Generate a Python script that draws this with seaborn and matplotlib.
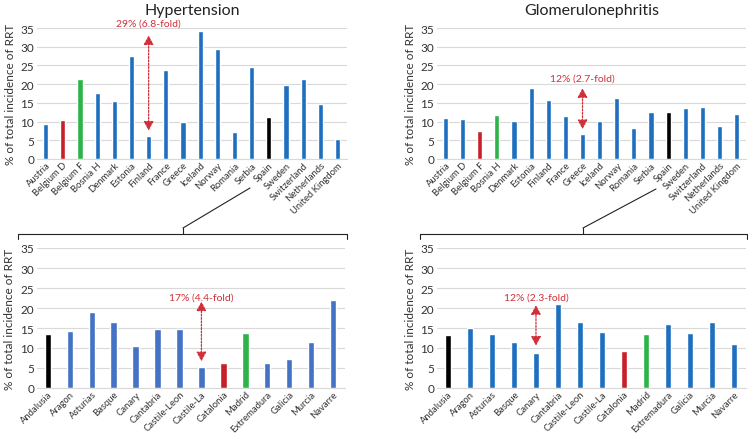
import matplotlib
matplotlib.use("Agg")
import matplotlib.pyplot as plt
from matplotlib.lines import Line2D
import seaborn as sns
import pandas as pd

countries = ["Austria", "Belgium D", "Belgium F", "Bosnia H", "Denmark", "Estonia",
             "Finland", "France", "Greece", "Iceland", "Norway", "Romania", "Serbia",
             "Spain", "Sweden", "Switzerland", "Netherlands", "United Kingdom"]
htn_country = [9.3, 10.3, 21.3, 17.7, 15.4, 27.4, 6.1, 23.7, 10.0, 34.1, 29.3, 7.3,
               24.5, 11.3, 19.8, 21.4, 14.6, 5.3]
gn_country = [10.9, 10.7, 7.4, 11.7, 10.2, 19.1, 15.7, 11.5, 6.8, 10.1, 16.4, 8.2,
              12.5, 12.6, 13.5, 14.0, 8.7, 12.0]

regions = ["Andalusia", "Aragon", "Asturias", "Basque", "Canary", "Cantabria",
           "Castile-Leon", "Castile-La", "Catalonia", "Madrid", "Extremadura",
           "Galicia", "Murcia", "Navarre"]
htn_region = [13.4, 14.3, 19.0, 16.4, 10.4, 14.8, 14.7, 5.3, 6.3, 13.8, 6.3, 7.3, 11.5, 22.0]
gn_region = [13.3, 14.9, 13.5, 11.5, 8.8, 21.0, 16.4, 14.0, 9.3, 13.5, 16.0, 13.8, 16.5, 11.1]

# highlighted bars
htn_country_hl = {"Belgium D": "red", "Belgium F": "green", "Spain": "black"}
gn_country_hl = {"Belgium F": "red", "Bosnia H": "green", "Spain": "black"}
region_hl = {"Andalusia": "black", "Catalonia": "red", "Madrid": "green"}

# annotations: (category, arrow top, arrow bottom, label, label y)
notes = [
    ("Finland", 33.0, 7.6, "29% (6.8-fold)", 36.3),
    ("Greece", 18.9, 8.0, "12% (2.7-fold)", 21.6),
    ("Castile-La", 21.6, 6.7, "17% (4.4-fold)", 22.8),
    ("Canary", 20.7, 10.6, "12% (2.3-fold)", 22.8),
]

BLUE = "#1f6fc0"
BLUE2 = "#4472c4"
HL = {"red": "#c8202a", "green": "#2db34a", "black": "#000000"}
ARROW = "#d0303a"

sns.set_style("white")
plt.rcParams["font.family"] = ["Lato", "DejaVu Sans"]

fig = plt.figure(figsize=(7.48, 4.39), dpi=100)
H = 439.0
W = 748.0


def ax_at(x0, x1, ytop, ybot):
    return fig.add_axes([x0 / W, 1 - ybot / H, (x1 - x0) / W, (ybot - ytop) / H])


panels = [
    (ax_at(37, 347, 29, 160), countries, htn_country, htn_country_hl, BLUE, "Hypertension", notes[0], 3),
    (ax_at(437, 746, 29, 160), countries, gn_country, gn_country_hl, BLUE, "Glomerulonephritis", notes[1], 3),
    (ax_at(37, 345, 249, 389), regions, htn_region, region_hl, BLUE2, None, notes[2], 4),
    (ax_at(437, 746, 249, 389), regions, gn_region, region_hl, BLUE, None, notes[3], 3),
]

for ax, cats, vals, hl, base, title, note, lpad in panels:
    df = pd.DataFrame({"cat": cats, "val": vals})
    pal = {c: HL[hl[c]] if c in hl else base for c in cats}
    sns.barplot(data=df, x="cat", y="val", hue="cat", palette=pal, legend=False,
                width=0.3, saturation=1, ax=ax)
    ax.set_ylim(0, 35)
    ax.set_xlim(-0.5, len(cats) - 0.45)
    ax.set_yticks(range(0, 36, 5))
    ax.yaxis.grid(True, color="#d9d9d9", lw=0.8)
    ax.set_axisbelow(True)
    for s in ["top", "right", "left"]:
        ax.spines[s].set_visible(False)
    ax.spines["bottom"].set_color("#d9d9d9")
    ax.tick_params(axis="both", length=0, labelsize=8.5, colors="#333333", pad=2)
    ax.tick_params(axis="x", labelsize=6.8, pad=1)
    plt.setp(ax.get_xticklabels(), rotation=45, ha="right", rotation_mode="anchor")
    ax.set_xlabel("")
    ax.set_ylabel("% of total incidence of RRT", fontsize=8.5, color="#333333", labelpad=lpad)
    if title:
        ax.set_title(title, fontsize=11.5, color="#222222", pad=0, y=1.11)
    cat, top, bot, label, ty = note
    i = cats.index(cat)
    ax.annotate("", xy=(i, top), xytext=(i, bot),
                arrowprops=dict(arrowstyle="<|-|>,head_width=0.3,head_length=0.55",
                                color=ARROW, lw=0.9, ls=(0, (1.5, 1.2)), shrinkA=0, shrinkB=0))
    ax.text(i, ty, label, color=ARROW, fontsize=7.5, ha="center", va="center", clip_on=False)


def fig_line(xs, ys):
    fig.add_artist(Line2D([x / W for x in xs], [1 - y / H for y in ys],
                          color="#222222", lw=0.8, transform=fig.transFigure))


# brackets linking "Spain" to its regions
fig_line([18, 18, 347, 347], [240, 235, 235, 240])
fig_line([183, 183], [235, 229])
fig_line([183, 250], [229, 189])
fig_line([420, 420, 747, 747], [240, 235, 235, 240])
fig_line([583, 583], [235, 229])
fig_line([583, 656], [229, 190])

fig.savefig("out.png", dpi=100)
